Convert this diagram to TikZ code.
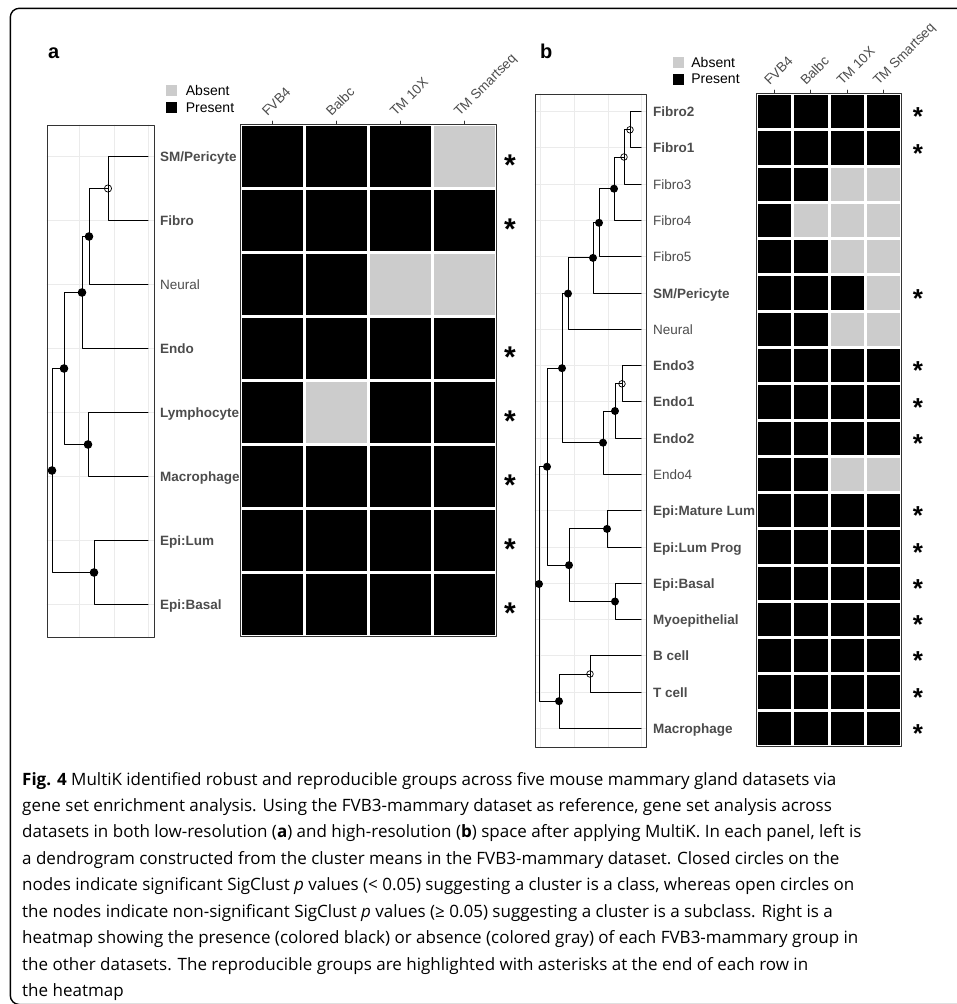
\documentclass[tikz,border=0pt]{standalone}
\usepackage{fontspec}
\setmainfont{Liberation Sans}
\newfontfamily\capfont{Open Sans}
\usetikzlibrary{positioning}
\definecolor{cccccc}{rgb}{0.8,0.8,0.8}
\definecolor{ebebeb}{rgb}{0.92,0.92,0.92}
\definecolor{wwwwww}{rgb}{0.3,0.3,0.3}
\definecolor{zzzzzz}{rgb}{0.2,0.2,0.2}

\begin{document}
\begin{tikzpicture}[line cap=round,line join=round,x=1pt,y=-1pt,
	sig/.style={circle,fill=black,inner sep=0pt,minimum size=8.6pt},
	nsig/.style={circle,draw=black,line width=0.7pt,inner sep=0pt,minimum size=7.2pt},
	tree/.style={line width=1pt},
	grd/.style={ebebeb,line width=0.9pt},
	frm/.style={zzzzzz,line width=0.9pt},
	leaf/.style={font=\fontsize{13.5}{16}\selectfont\bfseries,text=wwwwww,anchor=base west,inner sep=0pt},
	leafn/.style={leaf,font=\fontsize{13.5}{16}\selectfont},
	collab/.style={font=\fontsize{13.5}{16}\selectfont,text=wwwwww,rotate=45,anchor=base west,inner sep=0pt},
	keybox/.style={minimum size=11pt,inner sep=0pt},
	legtxt/.style={font=\fontsize{14}{16}\selectfont,inner sep=0pt,anchor=west},
	star/.style={font=\fontsize{30}{32}\selectfont\bfseries,inner sep=0pt,anchor=base},
	panel/.style={font=\fontsize{20}{22}\selectfont\bfseries,inner sep=0pt,anchor=base west},
	capt/.style={font=\capfont\fontsize{17}{20}\selectfont,inner sep=0pt,anchor=base west}]
	\useasboundingbox (0,0) rectangle (957,1004);
	\clip (0,0) rectangle (957,1004);
	\draw [line width=1.4pt,rounded corners=9pt] (10.3,8.3) rectangle (975,1004.5);

	\node[panel] (pa) at (48,58) {a};
	\node[panel] (pb) at (540,58) {b};

	\node[keybox,fill=cccccc] (absA) at (171,90) {};
	\node[keybox,fill=black] (preA) at (171,107.5) {};
	\node[legtxt,right=9pt of absA] (absAt) {Absent};
	\node[legtxt,right=9pt of preA] (preAt) {Present};
	\node[keybox,fill=cccccc] (absB) at (678.5,62) {};
	\node[keybox,fill=black] (preB) at (678.5,79) {};
	\node[legtxt,right=7pt of absB] (absBt) {Absent};
	\node[legtxt,right=7pt of preB] (preBt) {Present};

	\foreach \x in {79,114,148} \draw[grd] (\x,125) -- (\x,637);
	\foreach \r in {1,...,8} \draw[grd] (47,{156.5+64*(\r-1)}) -- (154,{156.5+64*(\r-1)});
	\draw[frm] (47,125) rectangle (154,637);
	\foreach \x in {540,574,608,641} \draw[grd] (\x,94) -- (\x,747);
	\foreach \r in {1,...,18} \draw[grd] (535,{75.36+36.28*\r}) -- (646,{75.36+36.28*\r});
	\draw[frm] (535,94) rectangle (646,747);

	\foreach \r in {1,...,8} \coordinate (ta\r) at (148,{156.5+64*(\r-1)});
	\foreach \r in {1,...,18} \coordinate (tb\r) at (641,{75.36+36.28*\r});

	\node[nsig] (a12) at (108,188.5) {};
	\node[sig] (a13) at (89,236.5) {};
	\node[sig] (a14) at (82,292.5) {};
	\node[sig] (a56) at (88,444.5) {};
	\node[sig] (a16) at (64,368.5) {};
	\node[sig] (a78) at (94,572.5) {};
	\node[sig] (aroot) at (52,470.5) {};
	\draw[tree] (a12.center) |- (ta1) (a12.center) |- (ta2)
		(a13.center) |- (a12.center) (a13.center) |- (ta3)
		(a14.center) |- (a13.center) (a14.center) |- (ta4)
		(a56.center) |- (ta5) (a56.center) |- (ta6)
		(a16.center) |- (a14.center) (a16.center) |- (a56.center)
		(a78.center) |- (ta7) (a78.center) |- (ta8)
		(aroot.center) |- (a16.center) (aroot.center) |- (a78.center);

	\begin{scope}[sig/.append style={minimum size=8pt},nsig/.append style={minimum size=6.6pt}]
	\node[nsig] (b12) at (630,129.8) {};
	\node[nsig] (b13) at (624,157) {};
	\node[sig] (b14) at (614,188.7) {};
	\node[sig] (b15) at (599,222.8) {};
	\node[sig] (b16) at (593,257.9) {};
	\node[sig] (b17) at (568,293.6) {};
	\node[nsig] (b89) at (622,383.8) {};
	\node[sig] (b810) at (615,411) {};
	\node[sig] (b811) at (603,442.7) {};
	\node[sig] (b111) at (562,368.2) {};
	\node[sig] (b1213) at (607,528.9) {};
	\node[sig] (b1415) at (615,601.5) {};
	\node[sig] (b1215) at (569,565.2) {};
	\node[sig] (b115) at (547,466.7) {};
	\node[nsig] (b1617) at (590,674) {};
	\node[sig] (b1618) at (559,701.2) {};
	\node[sig] (broot) at (539,584) {};
	\end{scope}
	\draw[tree] (b12.center) |- (tb1) (b12.center) |- (tb2)
		(b13.center) |- (b12.center) (b13.center) |- (tb3)
		(b14.center) |- (b13.center) (b14.center) |- (tb4)
		(b15.center) |- (b14.center) (b15.center) |- (tb5)
		(b16.center) |- (b15.center) (b16.center) |- (tb6)
		(b17.center) |- (b16.center) (b17.center) |- (tb7)
		(b89.center) |- (tb8) (b89.center) |- (tb9)
		(b810.center) |- (b89.center) (b810.center) |- (tb10)
		(b811.center) |- (b810.center) (b811.center) |- (tb11)
		(b111.center) |- (b17.center) (b111.center) |- (b811.center)
		(b1213.center) |- (tb12) (b1213.center) |- (tb13)
		(b1415.center) |- (tb14) (b1415.center) |- (tb15)
		(b1215.center) |- (b1213.center) (b1215.center) |- (b1415.center)
		(b115.center) |- (b111.center) (b115.center) |- (b1215.center)
		(b1617.center) |- (tb16) (b1617.center) |- (tb17)
		(b1618.center) |- (b1617.center) (b1618.center) |- (tb18)
		(broot.center) |- (b115.center) (broot.center) |- (b1618.center);

	\foreach \r/\t/\s in {1/{SM/Pericyte}/leaf,2/Fibro/leaf,3/Neural/leafn,4/Endo/leaf,5/Lymphocyte/leaf,6/Macrophage/leaf,7/Epi:Lum/leaf,8/Epi:Basal/leaf}
		\node[\s] (la\r) at (160,{161.5+64*(\r-1)}) {\t};
	\foreach \r/\t/\s in {1/Fibro2/leaf,2/Fibro1/leaf,3/Fibro3/leafn,4/Fibro4/leafn,5/Fibro5/leafn,6/{SM/Pericyte}/leaf,7/Neural/leafn,8/Endo3/leaf,9/Endo1/leaf,10/Endo2/leaf,11/Endo4/leafn,12/Epi:Mature Lum/leaf,13/Epi:Lum Prog/leaf,14/Epi:Basal/leaf,15/Myoepithelial/leaf,16/B cell/leaf,17/T cell/leaf,18/Macrophage/leaf}
		\node[\s] (lb\r) at (653,{80.4+36.28*\r}) {\t};

	\foreach \r/\row in {1/{black,black,black,cccccc},2/{black,black,black,black},3/{black,black,cccccc,cccccc},4/{black,black,black,black},5/{black,cccccc,black,black},6/{black,black,black,black},7/{black,black,black,black},8/{black,black,black,black}}
		\foreach \v [count=\c] in \row
			\fill[\v] ({242+64*(\c-1)},{126+64*(\r-1)}) rectangle ({303+64*(\c-1)},{187+64*(\r-1)});
	\draw[frm] (240.5,124.5) rectangle (496.5,636.5);
	\foreach \c/\t in {1/FVB4,2/Balbc,3/TM 10X,4/TM Smartseq} {
		\draw[frm] ({272.5+64*(\c-1)},121) -- ({272.5+64*(\c-1)},124.5);
		\node[collab] (ca\c) at ({267.5+64*(\c-1)},117) {\t};
	}
	\foreach \r in {1,2,4,5,6,7,8} \node[star] (sa\r) at (510,{175.5+64*(\r-1)}) {*};

	\foreach \r/\row in {1/{black,black,black,black},2/{black,black,black,black},3/{black,black,cccccc,cccccc},4/{black,cccccc,cccccc,cccccc},5/{black,black,cccccc,cccccc},6/{black,black,black,cccccc},7/{black,black,cccccc,cccccc},8/{black,black,black,black},9/{black,black,black,black},10/{black,black,black,black},11/{black,black,cccccc,cccccc},12/{black,black,black,black},13/{black,black,black,black},14/{black,black,black,black},15/{black,black,black,black},16/{black,black,black,black},17/{black,black,black,black},18/{black,black,black,black}}
		\foreach \v [count=\c] in \row
			\fill[\v] ({758+36.25*(\c-1)},{95+36.28*(\r-1)}) rectangle ({791.25+36.25*(\c-1)},{128.28+36.28*(\r-1)});
	\draw[frm] (756.5,93.5) rectangle (901.5,746.5);
	\foreach \c/\t in {1/FVB4,2/Balbc,3/TM 10X,4/TM Smartseq} {
		\draw[frm] ({774.6+36.25*(\c-1)},90) -- ({774.6+36.25*(\c-1)},93.5);
		\node[collab] (cb\c) at ({769.6+36.25*(\c-1)},86) {\t};
	}
	\foreach \r in {1,2,6,8,9,10,12,13,14,15,16,17,18} \node[star,font=\fontsize{26}{28}\selectfont\bfseries] (sb\r) at (918,{89.5+36.28*\r}) {*};

	\node[capt] (cap1) at (22,785) {\textbf{Fig. 4} MultiK identified robust and reproducible groups across five mouse mammary gland datasets via};
	\node[capt] (cap2) at (22,811.5) {gene set enrichment analysis. Using the FVB3-mammary dataset as reference, gene set analysis across};
	\node[capt] (cap3) at (22,837.9) {datasets in both low-resolution (\textbf{a}) and high-resolution (\textbf{b}) space after applying MultiK. In each panel, left is};
	\node[capt] (cap4) at (22,864.4) {a dendrogram constructed from the cluster means in the FVB3-mammary dataset. Closed circles on the};
	\node[capt] (cap5) at (22,890.8) {nodes indicate significant SigClust \textit{p} values (< 0.05) suggesting a cluster is a class, whereas open circles on};
	\node[capt] (cap6) at (22,917.3) {the nodes indicate non-significant SigClust \textit{p} values (≥ 0.05) suggesting a cluster is a subclass. Right is a};
	\node[capt] (cap7) at (22,943.8) {heatmap showing the presence (colored black) or absence (colored gray) of each FVB3-mammary group in};
	\node[capt] (cap8) at (22,970.2) {the other datasets. The reproducible groups are highlighted with asterisks at the end of each row in};
	\node[capt] (cap9) at (22,996.7) {the heatmap};
\end{tikzpicture}
\end{document}
